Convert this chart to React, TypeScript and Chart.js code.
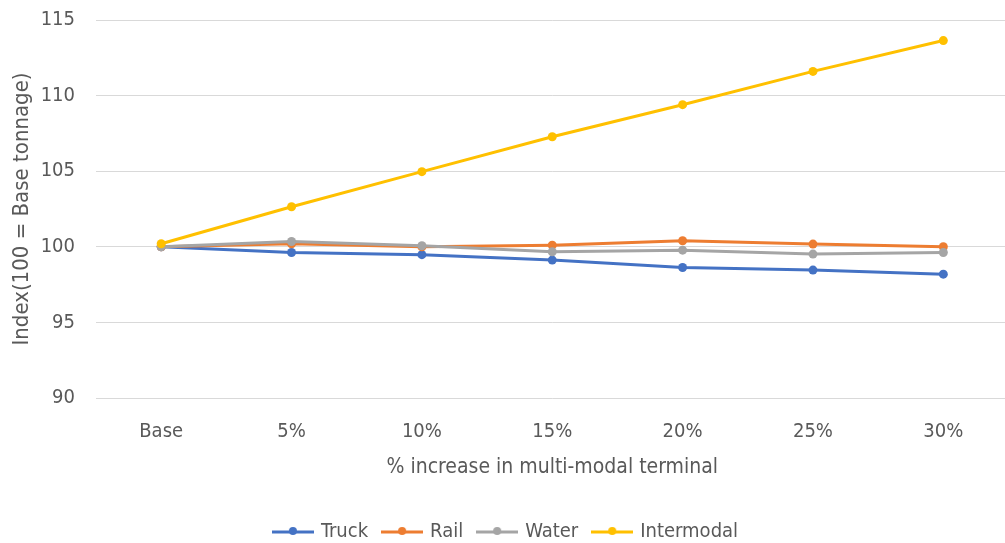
import React, { useEffect, useRef } from "react";
import { Chart, registerables } from "chart.js";

Chart.register(...registerables);

const categories = ["Base", "5%", "10%", "15%", "20%", "25%", "30%"];
const truck = [100.0, 99.62, 99.48, 99.12, 98.63, 98.46, 98.19];
const rail = [100.0, 100.2, 100.0, 100.11, 100.4, 100.18, 100.0];
const water = [100.0, 100.35, 100.07, 99.67, 99.78, 99.52, 99.62];
const intermodal = [100.2, 102.65, 104.97, 107.28, 109.4, 111.6, 113.64];
const yTicks = [90, 95, 100, 105, 110, 115];

const seriesNames = ["Truck", "Rail", "Water", "Intermodal"];
const seriesColors = ["#4472C4", "#ED7D31", "#A5A5A5", "#FFC000"];
const seriesData = [truck, rail, water, intermodal];

const FONT = "'DejaVu Sans Condensed', 'Liberation Sans Narrow', sans-serif";
const TEXT = "#595959";

function legendIcon(color: string): HTMLCanvasElement {
  const c = document.createElement("canvas");
  c.width = 42;
  c.height = 12;
  const ctx = c.getContext("2d")!;
  ctx.strokeStyle = color;
  ctx.lineWidth = 3;
  ctx.beginPath();
  ctx.moveTo(0, 6);
  ctx.lineTo(42, 6);
  ctx.stroke();
  ctx.fillStyle = color;
  ctx.beginPath();
  ctx.arc(21, 5, 4, 0, Math.PI * 2);
  ctx.fill();
  return c;
}

export default function App() {
  const ref = useRef<HTMLCanvasElement>(null);
  useEffect(() => {
    document.documentElement.style.overflow = "hidden";
    document.body.style.margin = "0";
    document.body.style.overflow = "hidden";
    const icons = seriesColors.map(legendIcon);
    const chart = new Chart(ref.current!, {
      type: "line",
      data: {
        labels: categories,
        datasets: seriesNames.map((name, i) => ({
          label: name,
          data: seriesData[i],
          borderColor: seriesColors[i],
          backgroundColor: seriesColors[i],
          pointBackgroundColor: seriesColors[i],
          pointBorderColor: seriesColors[i],
          pointStyle: "circle",
          pointRadius: 4.5,
          pointBorderWidth: 0,
          borderWidth: 3,
          tension: 0,
          order: 4 - i,
        })),
      },
      options: {
        animation: false,
        responsive: false,
        devicePixelRatio: 1,
        layout: { padding: { top: 20, left: 0, right: 0, bottom: 0 } },
        plugins: {
          tooltip: { enabled: false },
          legend: {
            position: "bottom",
            labels: {
              usePointStyle: true,
              pointStyleWidth: 36,
              padding: 16,
              color: TEXT,
              font: { family: FONT, size: 20 },
              generateLabels: () =>
                seriesNames.map((name, i) => ({
                  text: name,
                  fillStyle: seriesColors[i],
                  strokeStyle: seriesColors[i],
                  lineWidth: 0,
                  pointStyle: icons[i],
                  hidden: false,
                  datasetIndex: i,
                  fontColor: TEXT,
                })),
            },
          },
        },
        scales: {
          x: {
            offset: true,
            grid: { display: false, drawTicks: false },
            border: { display: false },
            ticks: { color: TEXT, font: { family: FONT, size: 20 }, padding: 22, maxRotation: 0 },
            title: {
              display: true,
              text: "% increase in multi-modal terminal",
              color: TEXT,
              font: { family: FONT, size: 21 },
              padding: { top: 0, bottom: 26 },
            },
            afterFit: (s: any) => {
              s.height = 108;
            },
          },
          y: {
            min: 90,
            max: 115,
            grid: { color: "#D9D9D9", lineWidth: 1, drawTicks: false },
            border: { display: false },
            afterBuildTicks: (s: any) => {
              s.ticks = yTicks.map((v) => ({ value: v }));
            },
            ticks: { color: TEXT, font: { family: FONT, size: 20 }, padding: 21 },
            title: {
              display: true,
              text: "Index(100 = Base tonnage)",
              color: TEXT,
              font: { family: FONT, size: 22 },
              padding: { top: 9, bottom: 0 },
            },
            afterFit: (s: any) => {
              s.width = 96;
              s.paddingTop = 0;
              s.paddingBottom = 0;
            },
          },
        },
      },
    });
    return () => chart.destroy();
  }, []);
  return (
    <div style={{ width: 1013, height: 552 }}>
      <canvas ref={ref} width={1013} height={552} style={{ width: 1013, height: 552, display: "block" }} />
    </div>
  );
}
